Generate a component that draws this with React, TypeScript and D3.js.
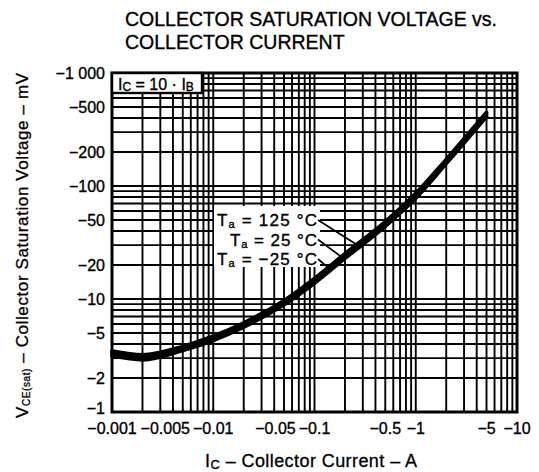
import React from "react";
import * as d3 from "d3";

// Collector current (A, magnitude) and saturation voltage (mV, magnitude)
const currentA = [0.001, 0.002, 0.005, 0.01, 0.02, 0.05, 0.1, 0.2, 0.5, 1, 2, 5];
const vce125 = [3.45, 3.2, 3.8, 4.7, 6.15, 9.7, 15.2, 25.2, 48.3, 86, 172, 448];
const vce25 = [3.3, 3.05, 3.65, 4.5, 5.9, 9.3, 14.5, 24, 46, 82, 165, 430];
const vceM25 = [3.15, 2.9, 3.5, 4.3, 5.65, 8.9, 13.8, 22.9, 44, 78, 158, 412];

const xTickValues = [0.001, 0.005, 0.01, 0.05, 0.1, 0.5, 1, 5, 10];
const xTickLabels = ["−0.001", "−0.005", "−0.01", "−0.05", "−0.1", "−0.5", "−1", "−5", "−10"];
const yTickValues = [1000, 500, 200, 100, 50, 20, 10, 5, 2, 1];
const yTickLabels = ["−1 000", "−500", "−200", "−100", "−50", "−20", "−10", "−5", "−2", "−1"];

const seriesNames = ["125", "25", "−25"];

const W = 539;
const H = 472;
const margin = { top: 73, right: 22, bottom: 60, left: 112 };
const FONT = "'Liberation Sans', Arial, Helvetica, sans-serif";
const TICK_FS = 16;

const measure = (s: string, size: number) => {
  const ctx = document.createElement("canvas").getContext("2d");
  if (!ctx) return s.length * size * 0.55;
  ctx.font = `${size}px 'Liberation Sans', Arial, sans-serif`;
  return ctx.measureText(s).width;
};

const App: React.FC = () => {
  const iw = W - margin.left - margin.right;
  const ih = H - margin.top - margin.bottom;

  const x = d3.scaleLog().domain([0.001, 10]).range([0, iw]);
  const y = d3.scaleLog().domain([1, 1000]).range([ih, 0]);

  // log grid lines 1..9 per decade
  const xGrid: number[] = [];
  for (let e = -3; e < 1; e++) for (let m = 1; m < 10; m++) xGrid.push(m * Math.pow(10, e));
  const yGrid: number[] = [];
  for (let e = 0; e < 3; e++) for (let m = 1; m < 10; m++) yGrid.push(m * Math.pow(10, e));

  const line = d3
    .line<[number, number]>()
    .x((d) => x(d[0]))
    .y((d) => y(d[1]))
    .curve(d3.curveMonotoneX);

  const seriesVals = [vce125, vce25, vceM25];
  const series = seriesVals.map((vals) =>
    line(currentA.map((c, i) => [c, vals[i]] as [number, number])) || ""
  );

  // x tick labels: centred on the tick, pushed left when they would collide
  const xLabelCenter: number[] = new Array(xTickValues.length);
  let nextStart = Infinity;
  for (let i = xTickValues.length - 1; i >= 0; i--) {
    const w = measure(xTickLabels[i], TICK_FS);
    const end = Math.min(x(xTickValues[i]) + w / 2, nextStart - 3);
    xLabelCenter[i] = end - w / 2;
    nextStart = end - w;
  }

  // annotation leader end points on each curve
  const leaderAt = [0.26, 0.19, 0.145];
  const interp = (vals: number[], c: number) => {
    const s = d3
      .scaleLinear()
      .domain(currentA.map((v) => Math.log10(v)))
      .range(vals.map((v) => Math.log10(v)));
    return Math.pow(10, s(Math.log10(c)));
  };

  return (
    <svg
      width={W}
      height={H}
      style={{ position: "absolute", left: 0, top: 0, background: "#fff" }}
      fontFamily={FONT}
    >
      <g stroke="#000" strokeWidth={0.35}>
        {/* Title */}
        <text x={125} y={26} fontSize={19.5} fill="#000">
          COLLECTOR SATURATION VOLTAGE vs.
        </text>
        <text x={125} y={48.5} fontSize={19.5} fill="#000">
          COLLECTOR CURRENT
        </text>
      </g>

      <g transform={`translate(${margin.left},${margin.top})`}>
        {/* grid */}
        {xGrid.map((v, i) => (
          <line key={"gx" + i} x1={x(v)} x2={x(v)} y1={0} y2={ih} stroke="#000" strokeWidth={1.9} />
        ))}
        {yGrid.map((v, i) => (
          <line key={"gy" + i} x1={0} x2={iw} y1={y(v)} y2={y(v)} stroke="#000" strokeWidth={1.9} />
        ))}
        <rect x={0} y={0} width={iw} height={ih} fill="none" stroke="#000" strokeWidth={3} />

        {/* condition box */}
        <rect x={0} y={0} width={90} height={20} fill="#fff" stroke="#000" strokeWidth={2.4} />
        <text x={6} y={17} fontSize={16} fill="#000" stroke="#000" strokeWidth={0.35}>
          I<tspan fontSize={12} dy={1}>C</tspan>
          <tspan dy={-1}> = 10 · I</tspan>
          <tspan fontSize={12} dy={1}>B</tspan>
        </text>

        {/* curves */}
        {series.map((d, i) => (
          <path key={"s" + i} d={d} fill="none" stroke="#000" strokeWidth={3.8} strokeLinecap="round" />
        ))}

        {/* temperature annotations */}
        <rect x={102} y={133} width={106} height={61} fill="#fff" />
        {seriesNames.map((n, i) => {
          const ty = 153 + i * 19.5;
          const tx = i === 1 ? 118 : 105;
          const px = x(leaderAt[i]);
          const py = y(interp(seriesVals[i], leaderAt[i]));
          return (
            <g key={"ann" + i}>
              <text
                x={tx}
                y={ty}
                fontSize={17}
                fill="#000"
                stroke="#000"
                strokeWidth={0.35}
                textLength={i === 1 ? 87 : 100}
              >
                T<tspan fontSize={11} dy={2}>a</tspan>
                <tspan dy={-2}>{` = ${n} °C`}</tspan>
              </text>
              <line x1={206} y1={ty - 6} x2={px} y2={py} stroke="#000" strokeWidth={1.7} />
            </g>
          );
        })}

        {/* x axis ticks */}
        {xGrid.concat([10]).map((v, i) => (
          <line key={"tx" + i} x1={x(v)} x2={x(v)} y1={ih} y2={ih - 4} stroke="#000" strokeWidth={1} />
        ))}
        <g stroke="#000" strokeWidth={0.35}>
          {xTickValues.map((v, i) => (
            <text key={"xl" + i} x={xLabelCenter[i]} y={ih + 22} fontSize={TICK_FS} textAnchor="middle" fill="#000">
              {xTickLabels[i]}
            </text>
          ))}

          {/* y axis labels */}
          {yTickValues.map((v, i) => (
            <text
              key={"yl" + i}
              x={-7}
              y={Math.min(y(v), ih - 4)}
              dy="0.35em"
              fontSize={TICK_FS}
              textAnchor="end"
              fill="#000"
            >
              {yTickLabels[i]}
            </text>
          ))}
        </g>
      </g>

      {/* axis titles */}
      <g stroke="#000" strokeWidth={0.3}>
        <text x={311} y={467} fontSize={18} textAnchor="middle" fill="#000" textLength={212}>
          I<tspan fontSize={13} dy={2}>C</tspan>
          <tspan dy={-2}> – Collector Current – A</tspan>
        </text>
        <text
          transform={`translate(28, 245.5) rotate(-90)`}
          fontSize={17}
          textAnchor="middle"
          fill="#000"
          textLength={345}
        >
          V<tspan fontSize={10} dy={2}>CE(sat)</tspan>
          <tspan dy={-2}> – Collector Saturation Voltage – mV</tspan>
        </text>
      </g>
    </svg>
  );
};

export default App;
